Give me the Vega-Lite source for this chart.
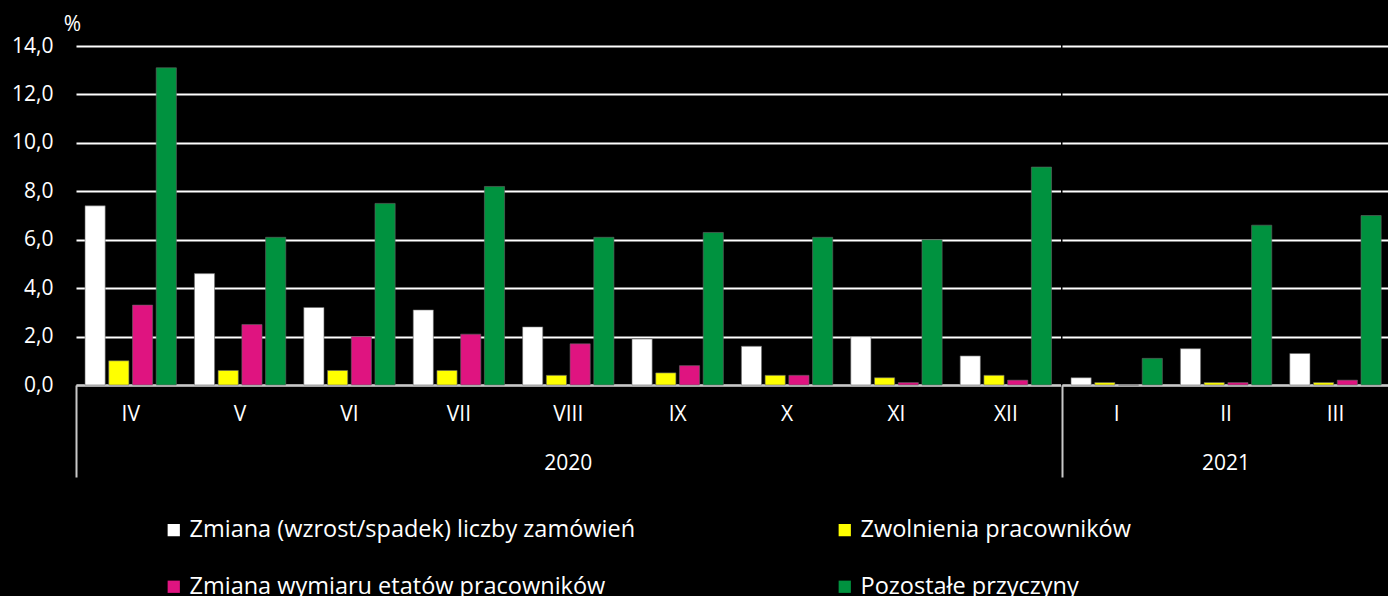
{
  "$schema": "https://vega.github.io/schema/vega-lite/v6.json",
  "background": "black",
  "padding": {"top": 13, "left": 11, "right": 0, "bottom": 0},
  "data": {
    "values": [
      {"rok": "2020", "m": "IV", "i": 1, "przyczyna": "Zmiana (wzrost/spadek) liczby zamówień", "v": 7.4},
      {"rok": "2020", "m": "IV", "i": 1, "przyczyna": "Zwolnienia pracowników", "v": 1.0},
      {"rok": "2020", "m": "IV", "i": 1, "przyczyna": "Zmiana wymiaru etatów pracowników", "v": 3.3},
      {"rok": "2020", "m": "IV", "i": 1, "przyczyna": "Pozostałe przyczyny", "v": 13.1},
      {"rok": "2020", "m": "V", "i": 2, "przyczyna": "Zmiana (wzrost/spadek) liczby zamówień", "v": 4.6},
      {"rok": "2020", "m": "V", "i": 2, "przyczyna": "Zwolnienia pracowników", "v": 0.6},
      {"rok": "2020", "m": "V", "i": 2, "przyczyna": "Zmiana wymiaru etatów pracowników", "v": 2.5},
      {"rok": "2020", "m": "V", "i": 2, "przyczyna": "Pozostałe przyczyny", "v": 6.1},
      {"rok": "2020", "m": "VI", "i": 3, "przyczyna": "Zmiana (wzrost/spadek) liczby zamówień", "v": 3.2},
      {"rok": "2020", "m": "VI", "i": 3, "przyczyna": "Zwolnienia pracowników", "v": 0.6},
      {"rok": "2020", "m": "VI", "i": 3, "przyczyna": "Zmiana wymiaru etatów pracowników", "v": 2.0},
      {"rok": "2020", "m": "VI", "i": 3, "przyczyna": "Pozostałe przyczyny", "v": 7.5},
      {"rok": "2020", "m": "VII", "i": 4, "przyczyna": "Zmiana (wzrost/spadek) liczby zamówień", "v": 3.1},
      {"rok": "2020", "m": "VII", "i": 4, "przyczyna": "Zwolnienia pracowników", "v": 0.6},
      {"rok": "2020", "m": "VII", "i": 4, "przyczyna": "Zmiana wymiaru etatów pracowników", "v": 2.1},
      {"rok": "2020", "m": "VII", "i": 4, "przyczyna": "Pozostałe przyczyny", "v": 8.2},
      {"rok": "2020", "m": "VIII", "i": 5, "przyczyna": "Zmiana (wzrost/spadek) liczby zamówień", "v": 2.4},
      {"rok": "2020", "m": "VIII", "i": 5, "przyczyna": "Zwolnienia pracowników", "v": 0.4},
      {"rok": "2020", "m": "VIII", "i": 5, "przyczyna": "Zmiana wymiaru etatów pracowników", "v": 1.7},
      {"rok": "2020", "m": "VIII", "i": 5, "przyczyna": "Pozostałe przyczyny", "v": 6.1},
      {"rok": "2020", "m": "IX", "i": 6, "przyczyna": "Zmiana (wzrost/spadek) liczby zamówień", "v": 1.9},
      {"rok": "2020", "m": "IX", "i": 6, "przyczyna": "Zwolnienia pracowników", "v": 0.5},
      {"rok": "2020", "m": "IX", "i": 6, "przyczyna": "Zmiana wymiaru etatów pracowników", "v": 0.8},
      {"rok": "2020", "m": "IX", "i": 6, "przyczyna": "Pozostałe przyczyny", "v": 6.3},
      {"rok": "2020", "m": "X", "i": 7, "przyczyna": "Zmiana (wzrost/spadek) liczby zamówień", "v": 1.6},
      {"rok": "2020", "m": "X", "i": 7, "przyczyna": "Zwolnienia pracowników", "v": 0.4},
      {"rok": "2020", "m": "X", "i": 7, "przyczyna": "Zmiana wymiaru etatów pracowników", "v": 0.4},
      {"rok": "2020", "m": "X", "i": 7, "przyczyna": "Pozostałe przyczyny", "v": 6.1},
      {"rok": "2020", "m": "XI", "i": 8, "przyczyna": "Zmiana (wzrost/spadek) liczby zamówień", "v": 2.0},
      {"rok": "2020", "m": "XI", "i": 8, "przyczyna": "Zwolnienia pracowników", "v": 0.3},
      {"rok": "2020", "m": "XI", "i": 8, "przyczyna": "Zmiana wymiaru etatów pracowników", "v": 0.1},
      {"rok": "2020", "m": "XI", "i": 8, "przyczyna": "Pozostałe przyczyny", "v": 6.0},
      {"rok": "2020", "m": "XII", "i": 9, "przyczyna": "Zmiana (wzrost/spadek) liczby zamówień", "v": 1.2},
      {"rok": "2020", "m": "XII", "i": 9, "przyczyna": "Zwolnienia pracowników", "v": 0.4},
      {"rok": "2020", "m": "XII", "i": 9, "przyczyna": "Zmiana wymiaru etatów pracowników", "v": 0.2},
      {"rok": "2020", "m": "XII", "i": 9, "przyczyna": "Pozostałe przyczyny", "v": 9.0},
      {"rok": "2021", "m": "I", "i": 10, "przyczyna": "Zmiana (wzrost/spadek) liczby zamówień", "v": 0.3},
      {"rok": "2021", "m": "I", "i": 10, "przyczyna": "Zwolnienia pracowników", "v": 0.1},
      {"rok": "2021", "m": "I", "i": 10, "przyczyna": "Zmiana wymiaru etatów pracowników", "v": 0.0},
      {"rok": "2021", "m": "I", "i": 10, "przyczyna": "Pozostałe przyczyny", "v": 1.1},
      {"rok": "2021", "m": "II", "i": 11, "przyczyna": "Zmiana (wzrost/spadek) liczby zamówień", "v": 1.5},
      {"rok": "2021", "m": "II", "i": 11, "przyczyna": "Zwolnienia pracowników", "v": 0.1},
      {"rok": "2021", "m": "II", "i": 11, "przyczyna": "Zmiana wymiaru etatów pracowników", "v": 0.1},
      {"rok": "2021", "m": "II", "i": 11, "przyczyna": "Pozostałe przyczyny", "v": 6.6},
      {"rok": "2021", "m": "III", "i": 12, "przyczyna": "Zmiana (wzrost/spadek) liczby zamówień", "v": 1.3},
      {"rok": "2021", "m": "III", "i": 12, "przyczyna": "Zwolnienia pracowników", "v": 0.1},
      {"rok": "2021", "m": "III", "i": 12, "przyczyna": "Zmiana wymiaru etatów pracowników", "v": 0.2},
      {"rok": "2021", "m": "III", "i": 12, "przyczyna": "Pozostałe przyczyny", "v": 7.0}
    ]
  },
  "facet": {
    "column": {
      "field": "rok",
      "type": "ordinal",
      "header": {
        "title": null,
        "labelOrient": "bottom",
        "labelColor": "white",
        "labelFontSize": 21,
        "labelFont": "Open Sans",
        "labelPadding": -25
      }
    }
  },
  "spacing": 0,
  "resolve": {"scale": {"x": "independent"}},
  "spec": {
    "width": {"step": 23.73},
    "height": 339,
    "mark": {"type": "bar", "stroke": "#666666", "strokeWidth": 0.6},
    "encoding": {
      "x": {
        "field": "m",
        "type": "ordinal",
        "sort": {"field": "i", "op": "min"},
        "scale": {"paddingInner": 0, "paddingOuter": 0},
        "axis": {
          "title": null,
          "labelAngle": 0,
          "labelColor": "white",
          "labelFontSize": 21,
          "labelFont": "Open Sans",
          "labelPadding": -63,
          "labelBaseline": "middle",
          "domainColor": "#c8c8c8",
          "domainWidth": 2,
          "tickColor": "#c8c8c8",
          "tickWidth": 2,
          "tickSize": 92,
          "bandPosition": 0,
          "tickOpacity": {"condition": {"test": "datum.value === 'IV' || datum.value === 'I'", "value": 1}, "value": 0}
        }
      },
      "xOffset": {
        "field": "przyczyna",
        "type": "nominal",
        "sort": ["Zmiana (wzrost/spadek) liczby zamówień", "Zwolnienia pracowników", "Zmiana wymiaru etatów pracowników", "Pozostałe przyczyny"],
        "scale": {"paddingInner": 0.15, "paddingOuter": 0.38}
      },
      "y": {
        "field": "v",
        "type": "quantitative",
        "scale": {"domain": [0, 14], "nice": false},
        "axis": {
          "title": "%",
          "titleAngle": 0,
          "titleColor": "white",
          "titleFontSize": 21,
          "titleFont": "Open Sans",
          "titleFontWeight": "normal",
          "titleX": -3,
          "titleY": -22,
          "titleAlign": "center",
          "titleBaseline": "middle",
          "values": [0, 2, 4, 6, 8, 10, 12, 14],
          "labelExpr": "replace(format(datum.value, '.1f'), '.', ',')",
          "labelColor": "white",
          "labelFontSize": 21,
          "labelFont": "Open Sans",
          "labelPadding": 22,
          "ticks": false,
          "domain": false,
          "gridColor": "white",
          "gridWidth": 2
        }
      },
      "color": {
        "field": "przyczyna",
        "type": "nominal",
        "sort": ["Zmiana (wzrost/spadek) liczby zamówień", "Zwolnienia pracowników", "Zmiana wymiaru etatów pracowników", "Pozostałe przyczyny"],
        "scale": {"range": ["#ffffff", "#ffff00", "#df1480", "#00923f"]},
        "legend": {
          "title": null,
          "orient": "none",
          "direction": "horizontal",
          "legendX": 86,
          "legendY": 472,
          "columns": 2,
          "columnPadding": 197,
          "rowPadding": 32,
          "symbolType": "square",
          "symbolSize": 150,
          "symbolStrokeWidth": 0,
          "labelColor": "white",
          "labelFontSize": 23.5,
          "labelFont": "Open Sans",
          "labelOffset": 4,
          "labelLimit": 700
        }
      }
    }
  },
  "config": {
    "view": {"stroke": null},
    "font": "Open Sans"
  }
}
